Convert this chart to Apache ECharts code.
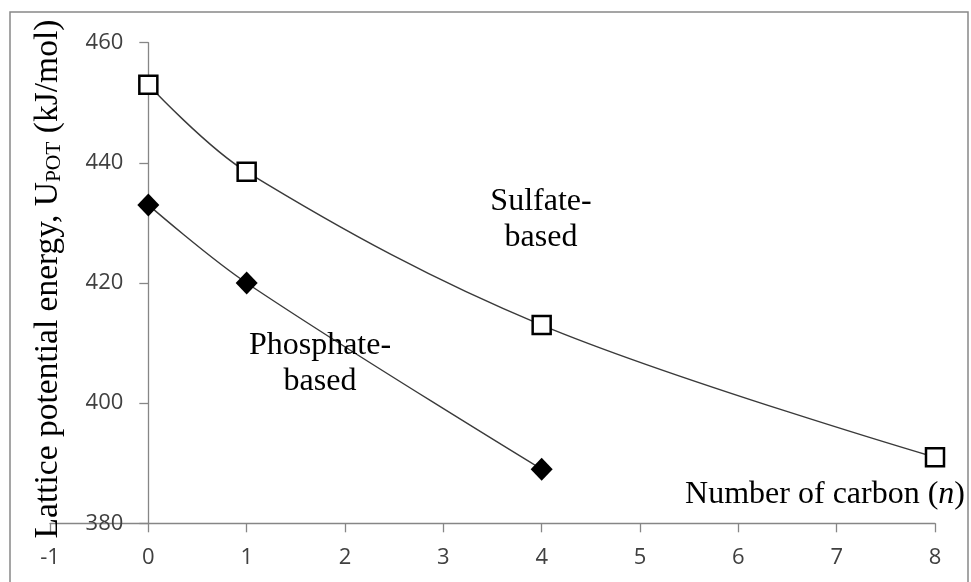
<!DOCTYPE html>
<html>
<head>
<meta charset="utf-8">
<script src="https://cdn.jsdelivr.net/npm/echarts@6/dist/echarts.min.js"></script>
<style>
html,body{margin:0;padding:0;background:#fff;}
#chart{width:971px;height:582px;}
</style>
</head>
<body>
<div id="chart"></div>
<script>
// Data
const sulfateX = [0, 1, 4, 8];
const sulfateY = [453, 438.5, 413, 391];
const phosphateX = [0, 1, 4];
const phosphateY = [433, 420, 389];
const xTicks = { min: -1, max: 8, interval: 1 };
const yTicks = { min: 380, max: 460, interval: 20 };
const yAxisTitle = ['Lattice potential energy, U', 'POT', ' (kJ/mol)'];
const xAxisTitle = ['Number of carbon (', 'n', ')'];
const sulfateLabel = 'Sulfate-\nbased';
const phosphateLabel = 'Phosphate-\nbased';

const pair = (xs, ys) => xs.map((x, i) => [x, ys[i]]);

const chart = echarts.init(document.getElementById('chart'));
const serif = '"Liberation Serif", "Times New Roman", serif';
const tickFont = '"Open Sans", sans-serif';

const GRID_LEFT = 50, GRID_RIGHT = 36;
const plotW = 971 - GRID_LEFT - GRID_RIGHT;
const yAxisShift = plotW * (0 - xTicks.min) / (xTicks.max - xTicks.min);

chart.setOption({
  backgroundColor: '#fff',
  animation: false,
  grid: { left: GRID_LEFT, right: GRID_RIGHT, top: 42.7, bottom: 58.7, containLabel: false, outerBoundsMode: 'none' },
  xAxis: {
    type: 'value',
    min: xTicks.min, max: xTicks.max, interval: xTicks.interval,
    splitLine: { show: false },
    axisLine: { show: true, onZero: false, lineStyle: { color: '#868686', width: 1.3 } },
    axisTick: { show: true, length: 9, lineStyle: { color: '#868686', width: 1.3 } },
    axisLabel: { margin: 23, fontFamily: tickFont, fontSize: 22, color: '#404040' }
  },
  yAxis: {
    type: 'value',
    min: yTicks.min, max: yTicks.max, interval: yTicks.interval,
    offset: -yAxisShift,
    splitLine: { show: false },
    axisLine: { show: true, onZero: false, lineStyle: { color: '#868686', width: 1.3 } },
    axisTick: { show: true, length: 9, lineStyle: { color: '#868686', width: 1.3 } },
    axisLabel: { margin: 25, fontFamily: tickFont, fontSize: 22, color: '#404040' }
  },
  series: [
    {
      name: 'Sulfate-based',
      type: 'line',
      data: pair(sulfateX, sulfateY),
      smooth: 0.35,
      symbol: 'rect',
      symbolSize: 18,
      itemStyle: { color: '#fff', borderColor: '#000', borderWidth: 2.5 },
      lineStyle: { color: '#3a3a3a', width: 1.4 },
      z: 3
    },
    {
      name: 'Phosphate-based',
      type: 'line',
      data: pair(phosphateX, phosphateY),
      smooth: 0.35,
      symbol: 'diamond',
      symbolSize: [22, 23],
      itemStyle: { color: '#000', borderColor: '#000', borderWidth: 0 },
      lineStyle: { color: '#3a3a3a', width: 1.4 },
      z: 3
    }
  ],
  graphic: [
    {
      type: 'rect', silent: true, z: 0,
      shape: { x: 10, y: 12, width: 958, height: 620 },
      style: { fill: 'none', stroke: '#888888', lineWidth: 1.5 }
    },
    {
      type: 'text', x: 48, y: 279, rotation: Math.PI / 2, z: 10,
      style: {
        text: '{a|' + yAxisTitle[0] + '}{s|' + yAxisTitle[1] + '}{a|' + yAxisTitle[2] + '}',
        align: 'center', verticalAlign: 'middle',
        rich: {
          a: { fontFamily: serif, fontSize: 33.5, lineHeight: 34, fill: '#000', verticalAlign: 'bottom' },
          s: { fontFamily: serif, fontSize: 21.5, lineHeight: 24, fill: '#000', verticalAlign: 'bottom' }
        }
      }
    },
    {
      type: 'text', x: 965, y: 495, z: 10,
      style: {
        text: '{a|' + xAxisTitle[0] + '}{i|' + xAxisTitle[1] + '}{a|' + xAxisTitle[2] + '}',
        align: 'right', verticalAlign: 'middle',
        rich: {
          a: { fontFamily: serif, fontSize: 32, fill: '#000' },
          i: { fontFamily: serif, fontSize: 32, fontStyle: 'italic', fill: '#000' }
        }
      }
    },
    {
      type: 'text', x: 541, y: 220, z: 10,
      style: {
        text: sulfateLabel, align: 'center', verticalAlign: 'middle',
        font: '32px ' + serif, lineHeight: 36, fill: '#000'
      }
    },
    {
      type: 'text', x: 320, y: 364, z: 10,
      style: {
        text: phosphateLabel, align: 'center', verticalAlign: 'middle',
        font: '32px ' + serif, lineHeight: 36, fill: '#000'
      }
    }
  ]
});
</script>
</body>
</html>
